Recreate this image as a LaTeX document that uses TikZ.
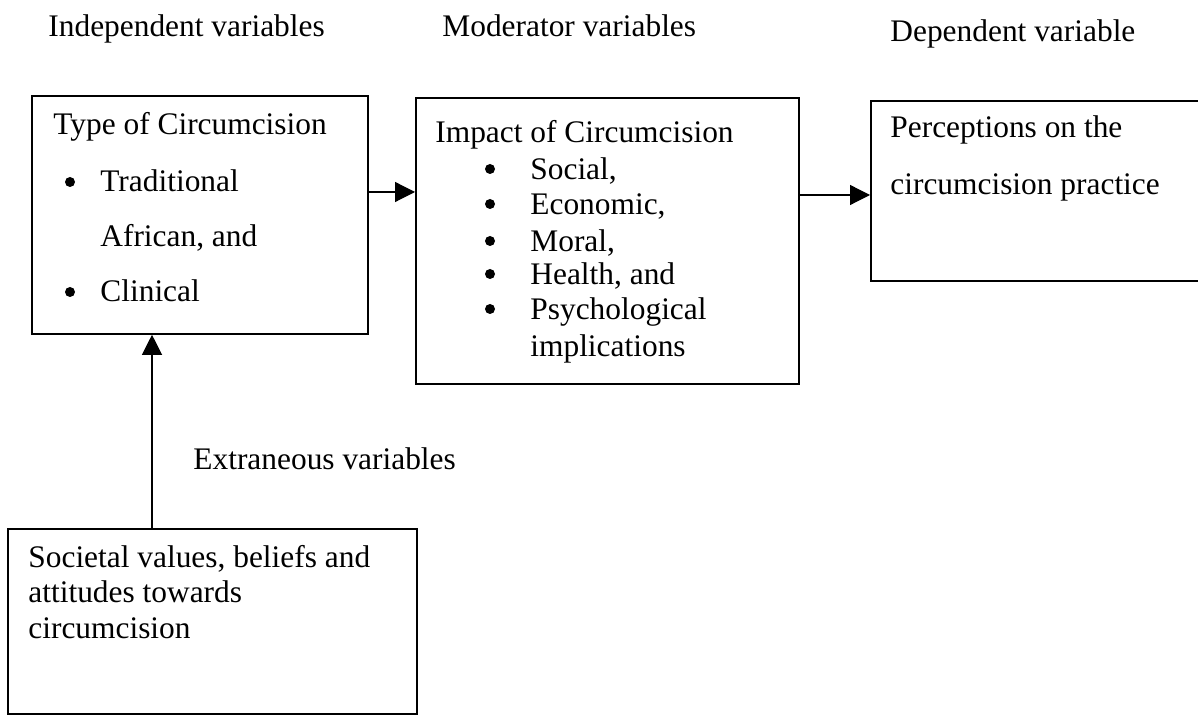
\documentclass[tikz,border=0pt]{standalone}
\usepackage{fontspec}
\setmainfont{Liberation Serif}
\usetikzlibrary{arrows.meta}

\begin{document}
\begin{tikzpicture}[x=0.5pt, y=-0.5pt, font=\fontsize{15.7}{18}\selectfont,
  varbox/.style={draw, rectangle, line width=0.9pt, anchor=north west, inner sep=0pt},
  txt/.style={anchor=base west, inner sep=0pt},
  dot/.style={circle, fill=black, inner sep=0pt, minimum size=5pt},
  flow/.style={line width=0.6pt, -{Triangle[length=10pt, width=10pt]}}]

\clip (0,0) rectangle (1198,715);

% ========== Column headings ==========
\node[txt] (hind) at (48,37) {Independent variables};
\node[txt] (hmod) at (442,37) {Moderator variables};
\node[txt] (hdep) at (890,42) {Dependent variable};

% ========== Independent: type of circumcision ==========
\node[varbox, minimum width=168pt, minimum height=119pt] (type) at (31,95) {};
\node[txt] (typetitle) at (53,135) {Type of Circumcision};
\node[dot] (typeb1) at (70,182) {};
\node[txt] (trad) at (100,192) {Traditional};
\node[txt] (afr) at (100,247) {African, and};
\node[dot] (typeb2) at (70,292) {};
\node[txt] (clin) at (100,302) {Clinical};

% ========== Moderator: impact of circumcision ==========
\node[varbox, minimum width=191.5pt, minimum height=143pt] (impact) at (415,97) {};
\node[txt] (imptitle) at (435,143) {Impact of Circumcision};
% bullet list
\foreach \y/\item in {180/{Social,}, 215/{Economic,}, 252/{Moral,}, 285/{Health, and}, 320/{Psychological}} {
    \node[dot] (impb\y) at (490,\y-11) {};
    \node[txt] (impt\y) at (530,\y) {\item};
}
\node[txt] (impl) at (530,357) {implications};

% ========== Dependent: perceptions ==========
\node[varbox, minimum width=170pt, minimum height=90pt] (percep) at (870,100) {};
\node[txt] (perc1) at (890,138) {Perceptions on the};
\node[txt] (perc2) at (890,195) {circumcision practice};

% ========== Extraneous: societal values ==========
\node[txt] (hext) at (193,470) {Extraneous variables};
\node[varbox, minimum width=204.5pt, minimum height=92.5pt] (soc) at (7,528) {};
\node[txt] (soc1) at (28,567) {Societal values, beliefs and};
\node[txt] (soc2) at (28,602) {attitudes towards};
\node[txt] (soc3) at (28,638) {circumcision};

% ========== Connectors ==========
\coordinate (extx) at (152,0);
\draw[flow] (type.east |- trad.base) -- (impact.west |- trad.base);
\draw[flow] (impact.east |- perc2.base) -- (percep.west |- perc2.base);
\draw[flow] (soc.north -| extx) -- (type.south -| extx);

\end{tikzpicture}
\end{document}
